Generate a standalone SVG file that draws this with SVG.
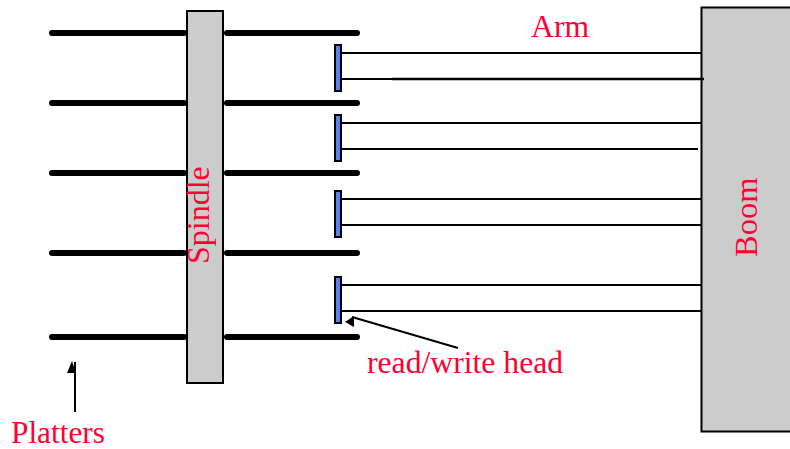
<svg xmlns="http://www.w3.org/2000/svg" width="790" height="449" viewBox="0 0 790 449">
<style>
.bar{fill:#ccc;stroke:#000;stroke-width:2}
.head{fill:#5b84ea;stroke:#000;stroke-width:2}
.platter{stroke:#000;stroke-width:6;stroke-linecap:round;fill:none}
.arm{stroke:#000;stroke-width:2;fill:none}
.armthick{stroke:#000;stroke-width:2.600;fill:none}
.tip{fill:#000;stroke:none}
text{font-family:"Liberation Serif","Times New Roman",serif;font-size:31.700px;fill:#ff0033}
</style>
<rect width="790" height="449" fill="#fff"/>
<g id="platters">
<path class="platter" d="M52,33H184M227,33H357M52,103H184M227,103H357M52,173H184M227,173H357M52,253H184M227,253H357M52,337H184M227,337H357"/>
</g>
<g id="spindle"><rect class="bar" x="187" y="11" width="36" height="372"/><text transform="translate(209,264) rotate(-90)" style="font-size:32px">Spindle</text></g>
<g id="boom"><rect class="bar" x="701.500" y="7.500" width="90" height="424"/><text transform="translate(757,257) rotate(-90)" style="font-size:32.500px">Boom</text></g>
<g id="connectors">
<path class="arm" d="M341,53H701M341,79H392M341,123H701M341,149H698M341,199H701M341,225H701M341,285H701M341,311H701"/>
<path class="armthick" d="M392,79H704"/>
<path class="arm" d="M75,412V362M352,317L458,348"/>
<polygon class="tip" points="72,361 67,373 76,373"/>
<polygon class="tip" points="345,322 354,316 354,327"/>
</g>
<g id="head1"><rect class="head" x="335" y="45" width="6" height="46"/></g>
<g id="head2"><rect class="head" x="335" y="115" width="6" height="46"/></g>
<g id="head3"><rect class="head" x="335" y="191" width="6" height="46"/></g>
<g id="head4"><rect class="head" x="335" y="277" width="6" height="46"/></g>
<g id="labels">
<text x="531" y="37">Arm</text>
<text x="367" y="373">read/write head</text>
<text x="11" y="443" style="font-size:31.300px">Platters</text>
</g>
</svg>
